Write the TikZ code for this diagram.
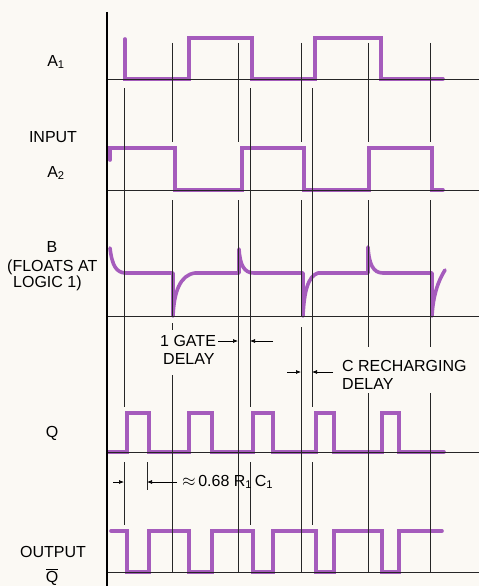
\documentclass[tikz,border=0pt]{standalone}
\usepackage{fontspec}
\setmainfont{Liberation Sans}
\usetikzlibrary{arrows.meta}
\definecolor{wave}{RGB}{165,92,188}
\definecolor{paper}{RGB}{251,249,244}
\newcommand\sbs[1]{\textsubscript{#1}}
\begin{document}
\begin{tikzpicture}[x=1pt,y=-1pt,
  wavef/.style={draw=wave,line width=3.6pt,line cap=round,line join=miter},
  wavec/.style={draw=wave,line width=3.6pt,line cap=round,line join=round},
  gridl/.style={draw=black!85,line width=0.7pt},
  axisl/.style={draw=black,line width=1.3pt},
  lbl/.style={font=\fontsize{16}{18}\selectfont,inner sep=0pt},
  dimarrow/.style={draw=black,line width=0.7pt,-{Latex[length=5pt,width=4pt]}}]
\useasboundingbox (0,0) rectangle (479,586);
\fill[paper] (0,0) rectangle (479,586);

% waveforms
\draw[wavef] (125,39) -- (125,79) -- (189,79) -- (189,38) -- (252,38) -- (252,79) -- (315,79) -- (315,38) -- (381,38) -- (381,79) -- (443,79);
\draw[wavef] (110,160) -- (110,148) -- (175,148) -- (175,190) -- (242,190) -- (242,148) -- (304,148) -- (304,190) -- (369,190) -- (369,148) -- (432,148) -- (432,190) -- (443,190);
\draw[wavec] (110,248) .. controls (112,265) and (116,273) .. (126,273) -- (173,273) -- (173,316)
  .. controls (174,292) and (180,275) .. (195,273) -- (239,273) -- (239,249)
  .. controls (240,265) and (244,273) .. (254,273) -- (303,273) -- (303,316)
  .. controls (304,292) and (308,276) .. (318,273) -- (368,273) -- (368,247)
  .. controls (369,264) and (373,273) .. (383,273) -- (432,273) -- (432,316)
  .. controls (433,296) and (438,281) .. (445,270);
\draw[wavef] (108,452) -- (127,452) -- (127,413) -- (149,413) -- (149,452) -- (189,452) -- (189,413) -- (212,413) -- (212,452) -- (253,452) -- (253,413) -- (273,413) -- (273,452) -- (316,452) -- (316,413) -- (334,413) -- (334,452) -- (382,452) -- (382,413) -- (399,413) -- (399,452) -- (444,452);
\draw[wavef] (111,531) -- (127,531) -- (127,572) -- (149,572) -- (149,531) -- (189,531) -- (189,572) -- (212,572) -- (212,531) -- (253,531) -- (253,572) -- (273,572) -- (273,531) -- (316,531) -- (316,572) -- (334,572) -- (334,531) -- (382,531) -- (382,572) -- (399,572) -- (399,531) -- (442,531);

% baselines and axis
\foreach \y in {79,190,316,452,572} \draw[gridl] (107,\y) -- (479,\y);
\draw[axisl] (107,12) -- (107,586);

% vertical timing lines
\foreach \x in {172,238,301,368,430} \draw[gridl] (\x,43) -- (\x,142);
\draw[gridl] (172,200) -- (172,316) (172,323) -- (172,330) (172,375) -- (172,572);
\draw[gridl] (238,200) -- (238,572);
\draw[gridl] (301,200) -- (301,316) (301,327) -- (301,572);
\foreach \x in {368,430} \draw[gridl] (\x,200) -- (\x,347) (\x,393) -- (\x,572);
\foreach \x in {124,250,312} \draw[gridl] (\x,88) -- (\x,407) (\x,462) -- (\x,525);
\draw[gridl] (147,462) -- (147,490);

% dimension arrows
\draw[dimarrow] (218,341) -- (238,341);
\draw[dimarrow] (273,341) -- (250,341);
\draw[dimarrow] (287,372) -- (301,372);
\draw[dimarrow] (333,372) -- (312,372);
\draw[dimarrow] (113,482) -- (124,482);
\draw[dimarrow] (177,482) -- (147,482);

% labels
\node[lbl] (la1) at (56,62) {A\sbs{1}};
\node[lbl] (linput) at (53,137) {INPUT};
\node[lbl] (la2) at (56,173) {A\sbs{2}};
\node[lbl] (lb) at (52,247) {B};
\node[lbl,anchor=west] (lfl) at (7,267) {(FLOATS AT};
\node[lbl,anchor=west] (llog) at (13,283) {LOGIC 1)};
\node[lbl] (lq) at (52,433) {Q};
\node[lbl] (lout) at (53,552) {OUTPUT};
\node[lbl] (lqb) at (52,577) {$\overline{\mbox{Q}}$};
\node[lbl,anchor=west] (lgate) at (160,341) {1 GATE};
\node[lbl,anchor=west] (lgd) at (163,359) {DELAY};
\node[lbl,anchor=west] (lrec) at (342,366) {C RECHARGING};
\node[lbl,anchor=west] (lrd) at (342,384) {DELAY};
\node[lbl,anchor=west] (lrc) at (182,482) {$\approx$\,0.68 R\sbs{1}\,C\sbs{1}};
\end{tikzpicture}
\end{document}
